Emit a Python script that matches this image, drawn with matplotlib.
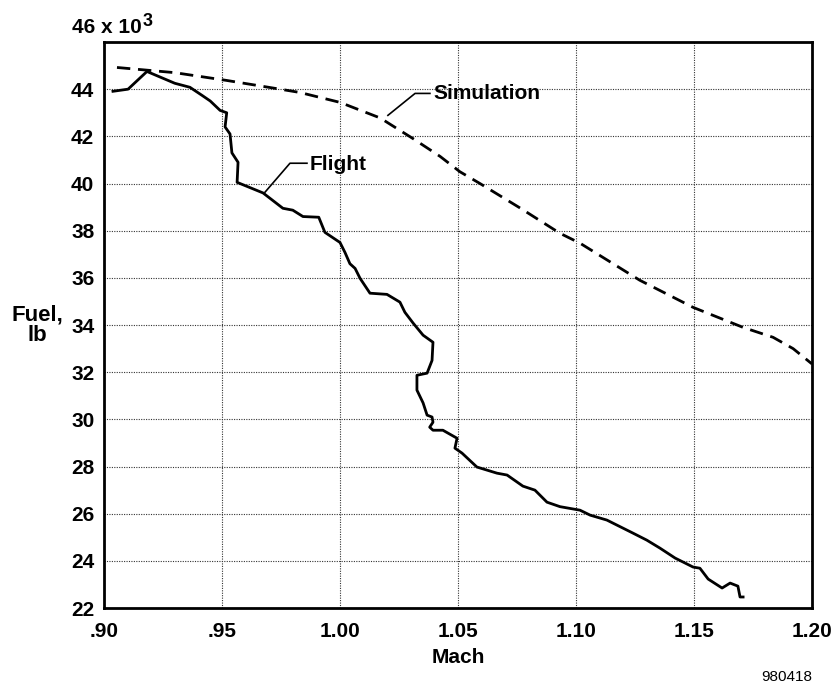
import matplotlib.pyplot as plt

# Flight-measured fuel vs Mach
flight_mach = [0.9038, 0.9102, 0.9182, 0.930, 0.9364, 0.9415, 0.945, 0.9492, 0.952, 0.9513,
               0.9534, 0.9542, 0.9568, 0.9564, 0.9674, 0.9758, 0.980, 0.9843, 0.991, 0.9936,
               1.0, 1.0021, 1.0042, 1.0064, 1.0085, 1.0127, 1.0199, 1.0254, 1.0275, 1.031,
               1.0352, 1.0394, 1.039, 1.0369, 1.0326, 1.0326, 1.0352, 1.0369, 1.039, 1.0394,
               1.038, 1.0394, 1.0436, 1.0496, 1.0487, 1.0517, 1.058, 1.0665, 1.0708, 1.0775,
               1.0826, 1.0877, 1.0932, 1.1017, 1.106, 1.1131, 1.1241, 1.130, 1.1356, 1.142,
               1.1496, 1.1525, 1.156, 1.1619, 1.1653, 1.1686, 1.1695, 1.1708]
flight_fuel = [43.91, 44.0, 44.75, 44.25, 44.08, 43.74, 43.5, 43.1, 43.0, 42.4,
               42.1, 41.3, 40.9, 40.05, 39.6, 38.95, 38.87, 38.6, 38.57, 37.93,
               37.5, 37.08, 36.6, 36.4, 35.98, 35.35, 35.3, 34.97, 34.54, 34.08,
               33.57, 33.27, 32.5, 31.96, 31.87, 31.24, 30.7, 30.18, 30.1, 29.88,
               29.67, 29.54, 29.54, 29.2, 28.78, 28.57, 27.98, 27.72, 27.64, 27.17,
               27.0, 26.49, 26.3, 26.15, 25.94, 25.73, 25.18, 24.88, 24.54, 24.12,
               23.74, 23.69, 23.23, 22.85, 23.06, 22.93, 22.47, 22.47]

# Simulated fuel vs Mach
sim_mach = [0.9055, 0.93, 0.952, 0.9746, 0.983, 1.0, 1.017, 1.031, 1.0424, 1.0508,
            1.0593, 1.0765, 1.0932, 1.1017, 1.127, 1.1496, 1.1708, 1.1835, 1.192, 1.20]
sim_fuel = [44.92, 44.7, 44.37, 44.0, 43.86, 43.44, 42.78, 41.9, 41.15, 40.5,
            40.0, 38.95, 37.89, 37.47, 35.9, 34.75, 33.9, 33.48, 33.0, 32.35]

x_ticks = [0.90, 0.95, 1.00, 1.05, 1.10, 1.15, 1.20]
x_tick_labels = [".90", ".95", "1.00", "1.05", "1.10", "1.15", "1.20"]
y_ticks = [22, 24, 26, 28, 30, 32, 34, 36, 38, 40, 42, 44, 46]

plt.rcParams["font.family"] = ["Liberation Sans", "DejaVu Sans"]
plt.rcParams["font.weight"] = "bold"
FS = 15

fig = plt.figure(figsize=(8.36, 6.84), dpi=100)
ax = fig.add_axes([0.1244, 0.111, 0.8469, 0.8276])

ax.plot(flight_mach, flight_fuel, color="black", lw=2.0, solid_joinstyle="round")
ax.plot(sim_mach, sim_fuel, color="black", lw=2.0, linestyle=(0, (4.8, 2.8)))

ax.set_xlim(0.90, 1.20)
ax.set_ylim(22, 46)
ax.set_xticks(x_ticks)
ax.set_xticklabels(x_tick_labels, fontsize=FS, fontweight="bold")
ax.set_yticks(y_ticks)
ax.set_yticklabels([str(v) for v in y_ticks[:-1]] + [""], fontsize=FS, fontweight="bold")
ax.tick_params(axis="both", length=0)
ax.tick_params(axis="x", pad=10)
ax.tick_params(axis="y", pad=7)
ax.grid(True, color="0.2", lw=0.8, linestyle=(0, (1, 1.2)))
for s in ax.spines.values():
    s.set_linewidth(2.0)

# top tick label with exponent
ax.text(0.054, 1.025, "46 x 10", transform=ax.transAxes, ha="right", va="center",
        fontsize=FS, fontweight="bold")
ax.text(0.055, 1.052, "3", transform=ax.transAxes, ha="left", va="top",
        fontsize=13, fontweight="bold")

# curve labels with leaders
ax.plot([1.0381, 1.0318, 1.0203], [43.82, 43.82, 42.89], color="black", lw=1.2)
ax.text(1.0394, 43.82, "Simulation", ha="left", va="center", fontsize=FS, fontweight="bold")
ax.plot([0.986, 0.9788, 0.9682], [40.86, 40.86, 39.63], color="black", lw=1.2)
ax.text(0.9873, 40.8, "Flight", ha="left", va="center", fontsize=FS, fontweight="bold")

ax.set_xlabel("Mach", fontsize=FS, fontweight="bold", labelpad=5)
fig.text(37 / 836, 1 - 325 / 684, "Fuel,\nlb", ha="center", va="center",
         multialignment="center", fontsize=16, fontweight="bold", linespacing=1.0)
fig.text(787 / 836, 1 - 677 / 684, "980418", ha="center", va="center",
         fontsize=11, fontweight="normal")

fig.savefig("out.png", dpi=100)
